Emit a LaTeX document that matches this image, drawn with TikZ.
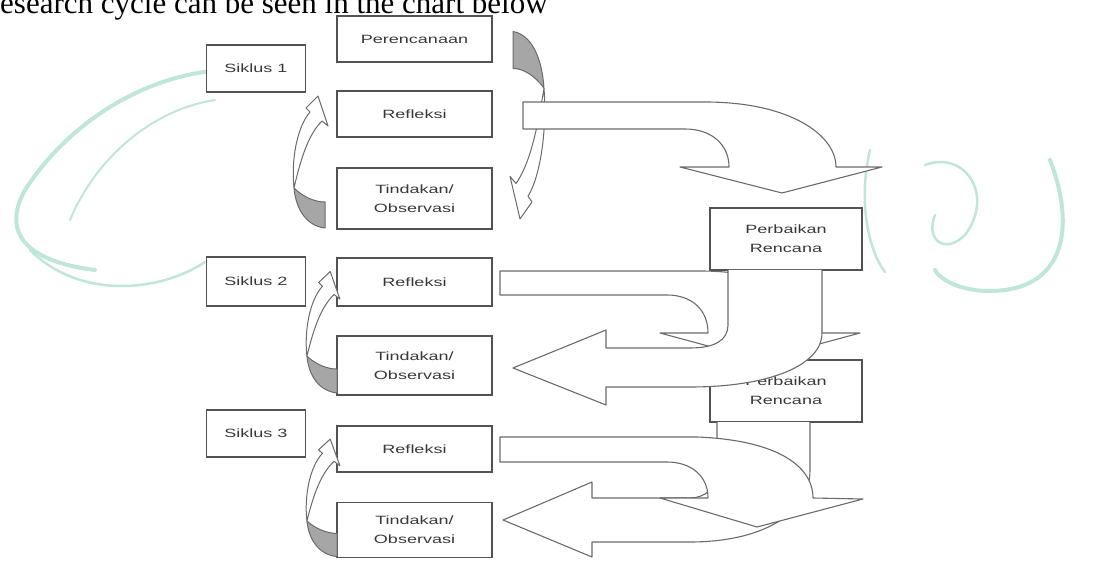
\documentclass[tikz,border=0pt]{standalone}
\usepackage{fontspec}
\setmainfont{Liberation Serif}
\newfontfamily\boxfont[FakeStretch=1.5]{Liberation Sans}
\usepackage{xcolor}
\usepackage{tikz}
\colorlet{boxline}{black!68}
\colorlet{boxtext}{black!78}
\colorlet{arrowline}{black!58}
\colorlet{shade}{black!35}
\definecolor{wmcolor}{HTML}{BFE6D8}
\tikzstyle{box}=[draw=boxline,line width=1.4pt,fill=white,minimum width=155pt,minimum height=46pt,inner sep=0pt,
  font=\boxfont\fontsize{12}{19}\selectfont,text=boxtext,align=center]
\tikzstyle{cyc}=[box,minimum width=99pt,minimum height=47pt]
\tikzstyle{fix}=[box,minimum width=152pt,minimum height=62pt]
\tikzstyle{blockarrow}=[draw=arrowline,line width=1.1pt,fill=white,line join=round]
\tikzstyle{curl}=[draw=arrowline,line width=1pt,fill=white,line join=round]
\tikzstyle{wmark}=[draw=wmcolor,line width=4pt,line cap=round]
% small bent arrow between the boxes of one cycle
\newcommand\curlarrow[1]{%
  \begin{scope}[#1]
    \draw[curl] (-31,-27) .. controls (-34,-55) and (-28,-88) .. (-15,-103) -- (-19,-107) -- (-7,-119)
      -- (3,-89) -- (-3,-94) .. controls (-15,-82) and (-23,-62) .. (-31,-27) -- cycle;
    \draw[curl,fill=shade] (0,13) .. controls (-18,11) and (-29,-5) .. (-31,-27)
      .. controls (-22,-18) and (-10,-13) .. (0,-13) -- cycle;
  \end{scope}}

\begin{document}
\begin{tikzpicture}[x=1pt,y=-1pt]
	\useasboundingbox (0,0) rectangle (1105,561);
	\clip (0,0) rectangle (1105,561);
	% watermark behind the chart
	\draw[wmark] (228,70) .. controls (150,72) and (70,120) .. (25,190) .. controls (0,235) and (30,262) .. (95,270);
	\draw[wmark,line width=2pt] (215,100) .. controls (150,110) and (95,160) .. (70,220);
	\draw[wmark,line width=2.5pt] (30,250) .. controls (80,300) and (160,292) .. (205,262);
	\draw[wmark,line width=2.5pt] (870,150) .. controls (858,200) and (868,250) .. (885,272);
	\draw[wmark,line width=2.5pt] (925,165) .. controls (965,150) and (995,195) .. (965,235) .. controls (945,255) and (925,240) .. (935,215);
	\draw[wmark] (1050,160) .. controls (1075,225) and (1065,282) .. (1005,290) .. controls (965,295) and (940,280) .. (935,270);

	\node[anchor=base west,inner sep=0pt,font=\fontsize{31}{31}\selectfont] (cap) at (0,14)
	  {esearch cycle can be seen in the chart below};

	\node[box] (per)  at (414.5,39)  {Perencanaan};
	\node[cyc] (sik1) at (256,68.5)  {Siklus 1};
	\node[box] (ref1) at (414.5,114) {Refleksi};
	\node[box,minimum height=61pt] (tin1) at (414.5,198.5) {Tindakan/\\Observasi};
	\node[fix] (pbk1) at (786,239)   {Perbaikan\\Rencana};
	\node[cyc,minimum height=49pt] (sik2) at (256,281.5) {Siklus 2};
	\node[box,minimum height=48pt] (ref2) at (414.5,282) {Refleksi};
	\node[box,minimum height=59pt] (tin2) at (414.5,365.5) {Tindakan/\\Observasi};
	\node[fix] (pbk2) at (786,391)   {Perbaikan\\Rencana};
	\node[cyc] (sik3) at (256,433.5) {Siklus 3};
	\node[box] (ref3) at (414.5,449) {Refleksi};
	\node[box,minimum height=55pt] (tin3) at (414.5,530) {Tindakan/\\Observasi};

	% cycle 1
	\curlarrow{shift={(325,215)}}
	\curlarrow{shift={(513,50)},rotate=180,yscale=1.42}
	\draw[blockarrow] (523,102) -- (705,102) .. controls (790,102) and (836,135) .. (836,167)
	  -- (882,167) -- (782,193) -- (680,167) -- (729,167) .. controls (729,145) and (712,129) .. (685,129)
	  -- (523,129) -- cycle;

	% cycle 2
	\curlarrow{shift={(337,381)},xscale=.97,yscale=.92}
	\draw[blockarrow] (500,271) -- (700,271) .. controls (780,271) and (810,300) .. (810,333)
	  -- (860,333) -- (760,360) -- (660,333) -- (708,333) .. controls (708,310) and (692,295) .. (667,295)
	  -- (500,295) -- cycle;
	\draw[blockarrow] (822,270) -- (822,333) .. controls (822,365) and (770,387) .. (690,387)
	  -- (606,387) -- (606,405) -- (513,368) -- (606,330) -- (606,348) -- (690,348)
	  .. controls (715,348) and (728,340) .. (728,325) -- (728,270);

	% cycle 3
	\curlarrow{shift={(337,545)},xscale=.97,yscale=.89}
	\draw[blockarrow] (810,422) -- (810,470) .. controls (810,515) and (760,542) .. (690,542)
	  -- (592,542) -- (592,557) -- (503,520) -- (592,482) -- (592,498) -- (690,498)
	  .. controls (705,498) and (717,488) .. (717,470) -- (717,422);
	\draw[blockarrow] (500,437) -- (697,437) .. controls (775,440) and (813,465) .. (813,498)
	  -- (863,499) -- (757,527) -- (660,498) -- (708,498) .. controls (708,475) and (690,462) .. (667,462)
	  -- (500,462) -- cycle;
\end{tikzpicture}
\end{document}
